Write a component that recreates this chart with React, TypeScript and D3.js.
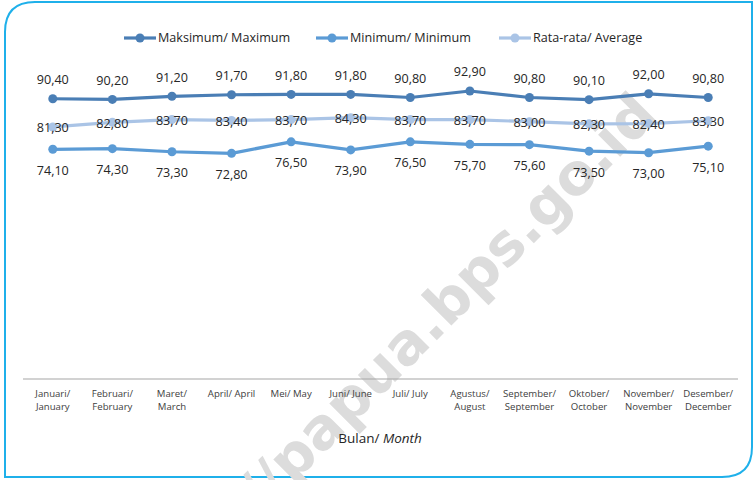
import { useEffect, useRef } from "react";
import { select, scaleBand, scaleLinear, line } from "d3";

const WIDTH = 755;
const HEIGHT = 480;

const MONTHS_ID = ["Januari/", "Februari/", "Maret/", "April/ April", "Mei/ May", "Juni/ June", "Juli/ July", "Agustus/", "September/", "Oktober/", "November/", "Desember/"];
const MONTHS_EN = ["January", "February", "March", "", "", "", "", "August", "September", "October", "November", "December"];

const MAXIMUM = [90.4, 90.2, 91.2, 91.7, 91.8, 91.8, 90.8, 92.9, 90.8, 90.1, 92.0, 90.8];
const MINIMUM = [74.1, 74.3, 73.3, 72.8, 76.5, 73.9, 76.5, 75.7, 75.6, 73.5, 73.0, 75.1];
const AVERAGE = [81.3, 82.8, 83.7, 83.4, 83.7, 84.3, 83.7, 83.7, 83.0, 82.3, 82.4, 83.3];

const SERIES_NAMES = ["Maksimum/ Maximum", "Minimum/ Minimum", "Rata-rata/ Average"];

const C_MAX = "#4a7eb5";
const C_MIN = "#5b9bd5";
const C_AVG = "#aac4e6";
const FRAME = "#1fb0ea";
const FONT = "'Open Sans', sans-serif";

export default function App() {
  const svgRef = useRef<SVGSVGElement>(null);

  useEffect(() => {
    const svg = select(svgRef.current);
    svg.selectAll("*").remove();

    // background + rounded frame (top-left & bottom-right rounded)
    svg.append("rect").attr("width", WIDTH).attr("height", HEIGHT).attr("fill", "#fff");

    const L = 5, T = 2, R = 752, B = 477, r = 30;
    svg.append("path")
      .attr("d", `M${L},${B} L${L},${T + r} Q${L},${T} ${L + r},${T} L${R},${T} L${R},${B - r} Q${R},${B} ${R - r},${B} Z`)
      .attr("fill", "none")
      .attr("stroke", FRAME)
      .attr("stroke-width", 2);

    // watermark
    svg.append("text")
      .attr("transform", "translate(461,316) rotate(-45)")
      .attr("text-anchor", "middle")
      .attr("font-family", "'DejaVu Sans', sans-serif")
      .attr("font-weight", 700)
      .attr("font-size", 57)
      .attr("fill", "#dcdcdc")
      .text("//papua.bps.go.id");

    const x = scaleBand<number>().domain(MAXIMUM.map((_, i) => i)).range([23, 738]);
    const y = scaleLinear().domain([0, 100]).range([379, 69]);
    const cx = (i: number) => (x(i) ?? 0) + x.bandwidth() / 2;

    // axis line
    svg.append("line")
      .attr("x1", 23).attr("x2", 738)
      .attr("y1", y(0)).attr("y2", y(0))
      .attr("stroke", "#a6a6a6")
      .attr("stroke-width", 1.2);

    // category labels
    MONTHS_ID.forEach((m, i) => {
      const t = svg.append("text")
        .attr("x", cx(i))
        .attr("y", 397)
        .attr("text-anchor", "middle")
        .attr("font-family", FONT)
        .attr("font-size", 9.6)
        .attr("fill", "#404040");
      t.append("tspan").attr("x", cx(i)).text(m);
      if (MONTHS_EN[i]) t.append("tspan").attr("x", cx(i)).attr("dy", 13).text(MONTHS_EN[i]);
    });

    // axis title
    const title = svg.append("text")
      .attr("x", 380).attr("y", 443)
      .attr("text-anchor", "middle")
      .attr("font-family", FONT)
      .attr("font-size", 13.5)
      .attr("fill", "#262626");
    title.append("tspan").text("Bulan/ ");
    title.append("tspan").attr("font-style", "italic").text("Month");

    const seriesList = [
      { values: MAXIMUM, color: C_MAX, offset: -19 },
      { values: MINIMUM, color: C_MIN, offset: 21 },
      { values: AVERAGE, color: C_AVG, offset: 1 },
    ];

    const path = line<number>().x((_, i) => cx(i)).y((d) => y(d));

    seriesList.forEach((s) => {
      svg.append("path")
        .attr("d", path(s.values))
        .attr("fill", "none")
        .attr("stroke", s.color)
        .attr("stroke-width", 3.2)
        .attr("stroke-linejoin", "round");
      s.values.forEach((v, i) => {
        svg.append("circle")
          .attr("cx", cx(i)).attr("cy", y(v))
          .attr("r", 4.5)
          .attr("fill", s.color);
      });
    });

    seriesList.forEach((s) => {
      s.values.forEach((v, i) => {
        svg.append("text")
          .attr("x", cx(i))
          .attr("y", y(v) + s.offset)
          .attr("dy", "0.35em")
          .attr("text-anchor", "middle")
          .attr("font-family", FONT)
          .attr("font-size", 12.6)
          .attr("fill", "#262626")
          .text(v.toFixed(2).replace(".", ","));
      });
    });

    // legend
    const legendX = [124, 316, 499];
    const legendColors = [C_MAX, C_MIN, C_AVG];
    SERIES_NAMES.forEach((name, i) => {
      const lx = legendX[i];
      svg.append("line")
        .attr("x1", lx).attr("x2", lx + 32)
        .attr("y1", 38).attr("y2", 38)
        .attr("stroke", legendColors[i])
        .attr("stroke-width", 3.2);
      svg.append("circle")
        .attr("cx", lx + 16).attr("cy", 38)
        .attr("r", 4.5)
        .attr("fill", legendColors[i]);
      svg.append("text")
        .attr("x", lx + 34)
        .attr("y", 38)
        .attr("dy", "0.35em")
        .attr("font-family", FONT)
        .attr("font-size", 12.6)
        .attr("fill", "#262626")
        .text(name);
    });
  }, []);

  return (
    <svg
      ref={svgRef}
      width={WIDTH}
      height={HEIGHT}
      style={{ position: "absolute", left: 0, top: 0 }}
    />
  );
}
